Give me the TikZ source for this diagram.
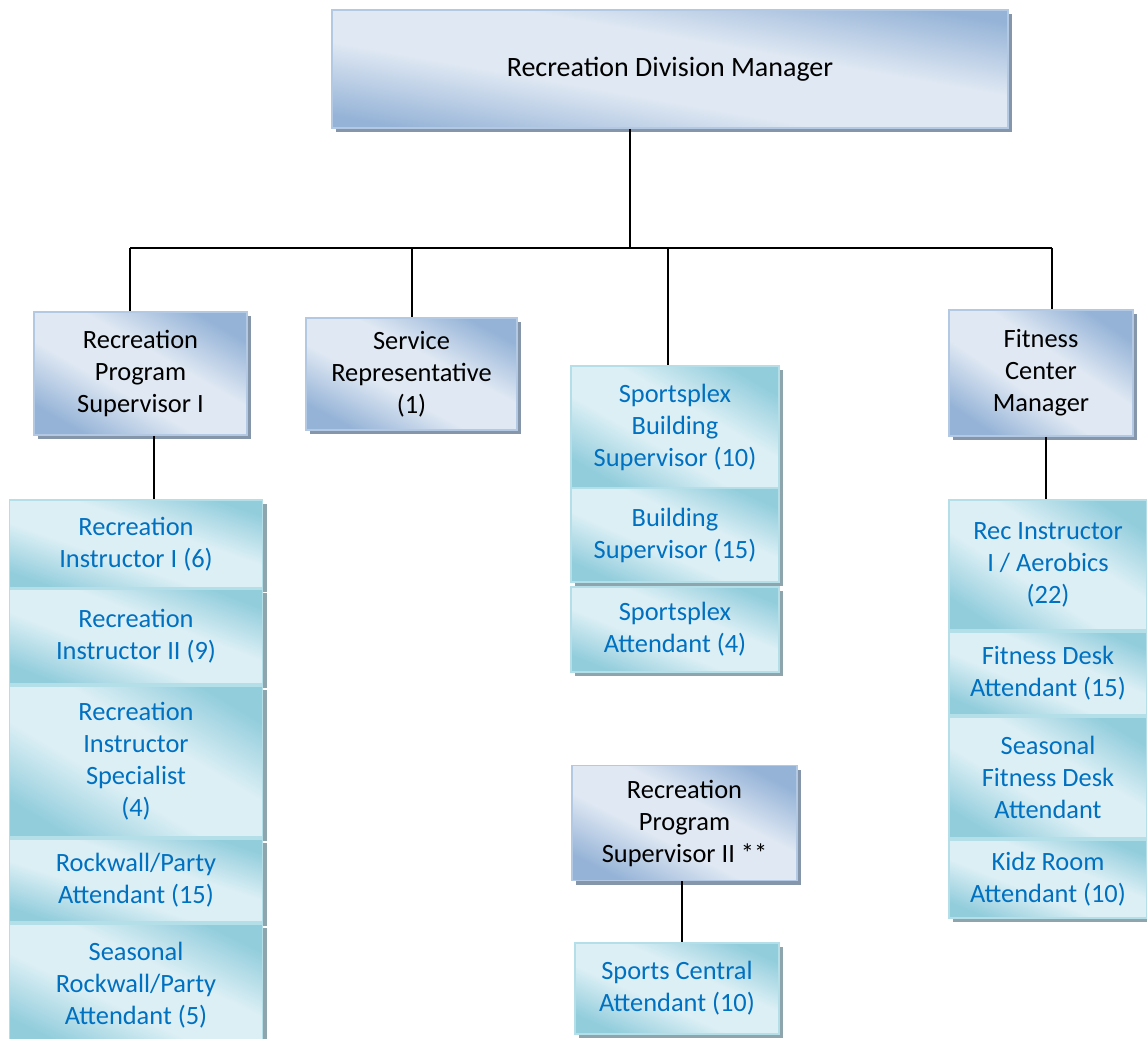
\documentclass[tikz,border=0pt]{standalone}
\usepackage{fontspec}
\setmainfont{Carlito}
\usetikzlibrary{shadows}

\definecolor{bdk}{HTML}{95B3D7}
\definecolor{blt}{HTML}{DFE8F3}
\definecolor{bbord}{HTML}{B3C8E2}
\definecolor{bshadow}{HTML}{8596AB}
\definecolor{tdk}{HTML}{92CDDC}
\definecolor{tlt}{HTML}{DCEFF5}
\definecolor{tbord}{HTML}{B4DEE8}
\definecolor{tshadow}{HTML}{8FA5AE}
\definecolor{ttext}{HTML}{0070C0}

\pgfdeclarehorizontalshading{bluegrad}{100bp}{color(0bp)=(bdk); color(24bp)=(bdk); color(42bp)=(blt); color(58bp)=(blt); color(76bp)=(bdk); color(100bp)=(bdk)}
\pgfdeclarehorizontalshading{tealgrad}{100bp}{color(0bp)=(tdk); color(24bp)=(tdk); color(42bp)=(tlt); color(58bp)=(tlt); color(76bp)=(tdk); color(100bp)=(tdk)}

\newcommand\boxfs{\fontsize{26.4}{32}\selectfont}
\newcommand\topfs{\fontsize{28}{34}\selectfont}

\tikzset{
  boxbase/.style={draw, line width=1.5pt, inner sep=0pt, align=center, font=\boxfs},
  sz/.style n args={3}{minimum width=#1, minimum height=#2, shading angle=#3},
  bluebox/.style={boxbase, draw=bbord, shading=bluegrad, text=black,
    general shadow={fill=bshadow, shadow xshift=4pt, shadow yshift=-4pt}},
  tealbox/.style={boxbase, draw=tbord, shading=tealgrad, text=ttext,
    general shadow={fill=tshadow, shadow xshift=4pt, shadow yshift=-4pt}},
  link/.style={draw=black, line width=2pt}
}

\begin{document}
\begin{tikzpicture}[x=1pt, y=-1pt]
\useasboundingbox (0,0) rectangle (1147,1038);

% head of the division
\node[bluebox, sz={676pt}{118pt}{80}, font=\topfs] (top) at (670,69) {Recreation Division Manager};

% second level
\node[bluebox, sz={213pt}{123pt}{60}] (rps1) at (140.5,373.5) {Recreation\\Program\\Supervisor I};
\node[bluebox, sz={211pt}{112pt}{62}] (svc) at (411.5,374) {Service\\Representative\\(1)};
\node[bluebox, sz={184pt}{126pt}{56}] (fcm) at (1041,373) {Fitness\\Center\\Manager};

% sportsplex stack
\node[tealbox, sz={208pt}{122pt}{60}] (sbs) at (675,427) {Sportsplex\\Building\\Supervisor (10)};
\node[tealbox, sz={208pt}{94pt}{66}] (bs) at (675,535) {Building\\Supervisor (15)};
\node[tealbox, sz={208pt}{85pt}{68}] (sa) at (675,629.5) {Sportsplex\\Attendant (4)};

% program supervisor II and its staff
\node[bluebox, sz={225pt}{115pt}{63}] (rps2) at (684.5,823) {Recreation\\Program\\Supervisor II **};
\node[tealbox, sz={204pt}{91pt}{66}] (sca) at (677,988.5) {Sports Central\\Attendant (10)};

% recreation instructors column
\node[tealbox, sz={253pt}{88pt}{71}] (ri1) at (136,544) {Recreation\\Instructor I (6)};
\node[tealbox, sz={253pt}{95pt}{69}] (ri2) at (136,636.5) {Recreation\\Instructor II (9)};
\node[tealbox, sz={253pt}{151pt}{59}] (ris) at (136,761.5) {Recreation\\Instructor\\Specialist\\(4)};
\node[tealbox, sz={253pt}{83pt}{72}] (rpa) at (136,880.5) {Rockwall/Party\\Attendant (15)};
\node[tealbox, sz={253pt}{122pt}{64}] (srpa) at (136,985) {Seasonal\\Rockwall/Party\\Attendant (5)};

% fitness column
\node[tealbox, sz={198pt}{130pt}{57}] (ria) at (1048,565) {Rec Instructor\\I / Aerobics\\(22)};
\node[tealbox, sz={198pt}{83pt}{67}] (fda) at (1048,673.5) {Fitness Desk\\Attendant (15)};
\node[tealbox, sz={198pt}{121pt}{59}] (sfda) at (1048,777.5) {Seasonal\\Fitness Desk\\Attendant};
\node[tealbox, sz={198pt}{78pt}{68}] (kra) at (1048,879) {Kidz Room\\Attendant (10)};

% connector bus
\coordinate (bus) at (630,248);
\coordinate (busL) at (130,248);
\coordinate (busS) at (412,248);
\coordinate (busP) at (668,248);
\coordinate (busR) at (1052,248);
\coordinate (dropA) at (154,0);
\coordinate (dropF) at (1046,0);
\coordinate (dropP) at (682,0);

\draw[link] (top.south -| bus) -- (bus);
\draw[link] (busL) -- (busR);
\draw[link] (busL) -- (rps1.north -| busL);
\draw[link] (busS) -- (svc.north -| busS);
\draw[link] (busP) -- (sbs.north -| busP);
\draw[link] (busR) -- (fcm.north -| busR);
\draw[link] (rps1.south -| dropA) -- (ri1.north -| dropA);
\draw[link] (fcm.south -| dropF) -- (ria.north -| dropF);
\draw[link] (rps2.south -| dropP) -- (sca.north -| dropP);
\end{tikzpicture}
\end{document}
